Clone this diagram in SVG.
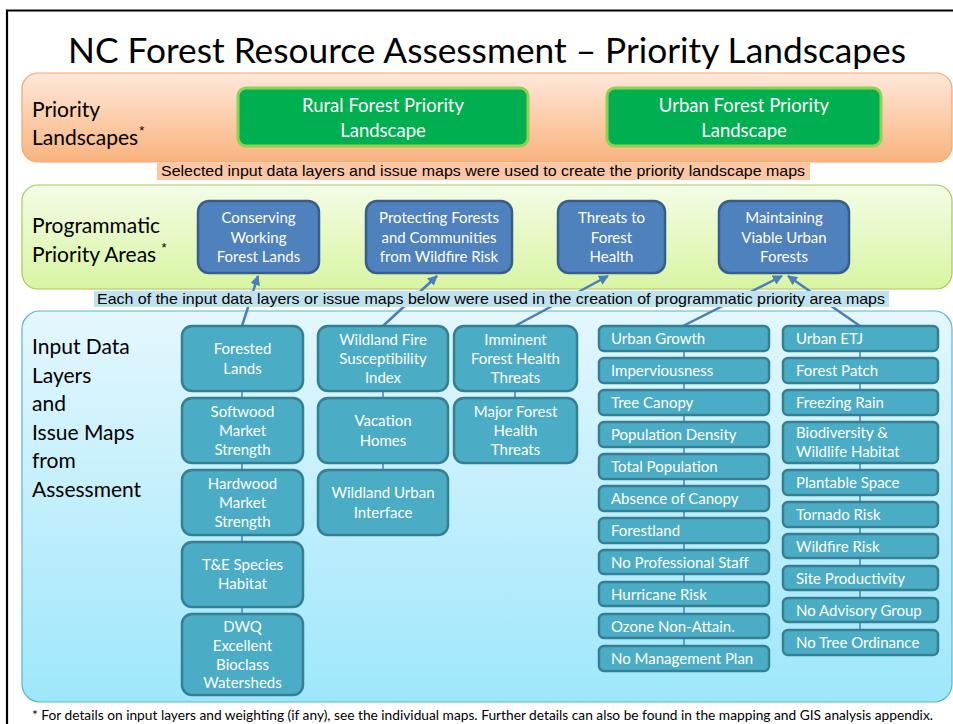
<svg xmlns="http://www.w3.org/2000/svg" width="953" height="724" viewBox="0 0 953 724">
<defs>
  <linearGradient id="gOrange" x1="0" y1="0" x2="0" y2="1">
    <stop offset="0" stop-color="#fee8da"/>
    <stop offset="1" stop-color="#f9b37e"/>
  </linearGradient>
  <linearGradient id="gGreen" x1="0" y1="0" x2="0" y2="1">
    <stop offset="0" stop-color="#f3fce6"/>
    <stop offset="1" stop-color="#d8f5a2"/>
  </linearGradient>
  <linearGradient id="gBlue" x1="0" y1="0" x2="0" y2="1">
    <stop offset="0" stop-color="#e4f7fd"/>
    <stop offset="1" stop-color="#9ee7fb"/>
  </linearGradient>
  <marker id="arr" viewBox="0 0 10 10" refX="9" refY="5" markerWidth="4" markerHeight="4" orient="auto">
    <path d="M0,0 L10,5 L0,10 z" fill="#4a7ebb"/>
  </marker>
</defs>
<style>
  .cal { font-family: Lato, "Open Sans", "Liberation Sans", sans-serif; }
  .ari { font-family: "Liberation Sans", Arial, sans-serif; }
  .lbl { font-family: Lato, "Open Sans", sans-serif; font-size: 21px; fill: #000; }
  .ast { font-family: "Liberation Sans", Arial, sans-serif; font-size: 13px; }
  .gbox { fill: #00b050; stroke: #92d050; stroke-width: 3; }
  .pbox { fill: #4f81bd; stroke: #385d8a; stroke-width: 2.5; }
  .tbox { fill: #4bacc6; stroke: #357f93; stroke-width: 2.5; }
  .wt { fill: #fff; font-family: Lato, "Open Sans", sans-serif; font-size: 15px; }
  .wtc { fill: #fff; font-family: Lato, "Open Sans", sans-serif; font-size: 15px; text-anchor: middle; }
  .gt { fill: #fff; font-family: Lato, "Open Sans", sans-serif; font-size: 18.5px; text-anchor: middle; }
  .arrow { stroke: #4a7ebb; stroke-width: 2.5; fill: none; marker-end: url(#arr); }
  .link { stroke: #4a7ebb; stroke-width: 1.5; fill: none; }
</style>
<rect x="0" y="0" width="953" height="724" fill="#fff"/>
<!-- frame -->
<path d="M7,724 L7,10.5 L953,10.5" fill="none" stroke="#000" stroke-width="2.2"/>

<text class="cal" x="487" y="63" font-size="35" text-anchor="middle" textLength="838" lengthAdjust="spacingAndGlyphs">NC Forest Resource Assessment – Priority Landscapes</text>

<!-- bands -->
<g id="band-priority">
  <rect x="22" y="73" width="930" height="89" rx="16" fill="url(#gOrange)" stroke="#f5a56a" stroke-width="1.2"/>
  <text class="lbl" x="32" y="117">Priority</text>
  <text class="lbl" x="32" y="145">Landscapes<tspan class="ast" dx="1" dy="-10">*</tspan></text>
</g>
<g id="band-programmatic">
  <rect x="22" y="185" width="930" height="104" rx="16" fill="url(#gGreen)" stroke="#a5c85e" stroke-width="1.2"/>
  <text class="lbl" x="32" y="233">Programmatic</text>
  <text class="lbl" x="32" y="262">Priority Areas <tspan class="ast" dy="-10">*</tspan></text>
</g>
<g id="band-input">
  <rect x="22" y="311" width="930" height="391" rx="18" fill="url(#gBlue)" stroke="#5bb5d0" stroke-width="1.2"/>
  <text class="lbl" x="32" y="354">Input Data</text>
  <text class="lbl" x="32" y="383">Layers</text>
  <text class="lbl" x="32" y="411">and</text>
  <text class="lbl" x="32" y="440">Issue Maps</text>
  <text class="lbl" x="32" y="468">from</text>
  <text class="lbl" x="32" y="497">Assessment</text>
</g>

<!-- connectors -->
<g id="connectors">
  <line class="arrow" x1="242" y1="326" x2="258" y2="276"/>
  <line class="arrow" x1="383" y1="326" x2="437" y2="276"/>
  <line class="arrow" x1="515" y1="326" x2="608" y2="276"/>
  <line class="arrow" x1="683" y1="326" x2="782" y2="276"/>
  <line class="arrow" x1="860" y1="326" x2="788" y2="276"/>
  <path class="link" d="M242,391V398 M242,463V470 M242,535V542 M242,607V614
    M383,391V398 M383,463V470 M515,391V398
    M684,351V358 M684,383V390 M684,415V422 M684,447V454 M684,479V486 M684,511V518 M684,543V550 M684,574V582 M684,606V614 M684,638V646
    M860,351V358 M860,383V390 M860,415V422 M860,463V470 M860,495V502 M860,527V534 M860,558V566 M860,590V598 M860,622V630"/>
</g>

<!-- captions -->
<g id="caption-1">
  <rect x="157" y="163" width="653" height="17" fill="#fac6a4"/>
  <text class="ari" x="483" y="176" font-size="15" text-anchor="middle" textLength="644" lengthAdjust="spacingAndGlyphs">Selected input data layers and issue maps were used to create the priority landscape maps</text>
</g>
<g id="caption-2">
  <rect x="94" y="291" width="795" height="16" fill="#bfe3ee"/>
  <text class="ari" x="491" y="304" font-size="15" text-anchor="middle" textLength="788" lengthAdjust="spacingAndGlyphs">Each of the input data layers or issue maps below were used in the creation of programmatic priority area maps</text>
</g>

<!-- priority landscapes -->
<g id="rural-landscape">
  <rect class="gbox" x="238" y="88" width="290" height="58" rx="8"/>
  <text class="gt" x="383" y="112">Rural Forest Priority</text>
  <text class="gt" x="383" y="137">Landscape</text>
</g>
<g id="urban-landscape">
  <rect class="gbox" x="607" y="88" width="274" height="58" rx="8"/>
  <text class="gt" x="744" y="112">Urban Forest Priority</text>
  <text class="gt" x="744" y="137">Landscape</text>
</g>

<!-- programmatic -->
<g id="conserving">
  <rect class="pbox" x="198" y="201" width="121" height="72" rx="11"/>
  <text class="wtc" x="258.5" y="223">Conserving</text>
  <text class="wtc" x="258.5" y="242.5">Working</text>
  <text class="wtc" x="258.5" y="262">Forest Lands</text>
</g>
<g id="protecting">
  <rect class="pbox" x="366" y="201" width="146" height="72" rx="11"/>
  <text class="wtc" x="439" y="223">Protecting Forests</text>
  <text class="wtc" x="439" y="242.5">and Communities</text>
  <text class="wtc" x="439" y="262">from Wildfire Risk</text>
</g>
<g id="threats">
  <rect class="pbox" x="558" y="201" width="107" height="72" rx="11"/>
  <text class="wtc" x="611.5" y="223">Threats to</text>
  <text class="wtc" x="611.5" y="242.5">Forest</text>
  <text class="wtc" x="611.5" y="262">Health</text>
</g>
<g id="maintaining">
  <rect class="pbox" x="719" y="201" width="130" height="72" rx="11"/>
  <text class="wtc" x="784" y="223">Maintaining</text>
  <text class="wtc" x="784" y="242.5">Viable Urban</text>
  <text class="wtc" x="784" y="262">Forests</text>
</g>

<!-- column 1 -->
<g id="forested-lands">
  <rect class="tbox" x="182" y="326" width="121" height="65" rx="10"/>
  <text class="wtc" x="242.5" y="354">Forested</text>
  <text class="wtc" x="242.5" y="374">Lands</text>
</g>
<g id="softwood">
  <rect class="tbox" x="182" y="398" width="121" height="65" rx="10"/>
  <text class="wtc" x="242.5" y="417">Softwood</text>
  <text class="wtc" x="242.5" y="436">Market</text>
  <text class="wtc" x="242.5" y="455">Strength</text>
</g>
<g id="hardwood">
  <rect class="tbox" x="182" y="470" width="121" height="65" rx="10"/>
  <text class="wtc" x="242.5" y="489">Hardwood</text>
  <text class="wtc" x="242.5" y="508">Market</text>
  <text class="wtc" x="242.5" y="527">Strength</text>
</g>
<g id="te-species">
  <rect class="tbox" x="182" y="542" width="121" height="65" rx="10"/>
  <text class="wtc" x="242.5" y="570">T&amp;E Species</text>
  <text class="wtc" x="242.5" y="589">Habitat</text>
</g>
<g id="dwq">
  <rect class="tbox" x="182" y="614" width="121" height="81" rx="10"/>
  <text class="wtc" x="242.5" y="632">DWQ</text>
  <text class="wtc" x="242.5" y="651">Excellent</text>
  <text class="wtc" x="242.5" y="669.5">Bioclass</text>
  <text class="wtc" x="242.5" y="688">Watersheds</text>
</g>

<!-- column 2 -->
<g id="wildland-fire">
  <rect class="tbox" x="318" y="326" width="130" height="65" rx="10"/>
  <text class="wtc" x="383" y="345">Wildland Fire</text>
  <text class="wtc" x="383" y="364">Susceptibility</text>
  <text class="wtc" x="383" y="383">Index</text>
</g>
<g id="vacation-homes">
  <rect class="tbox" x="318" y="398" width="130" height="65" rx="10"/>
  <text class="wtc" x="383" y="426">Vacation</text>
  <text class="wtc" x="383" y="446">Homes</text>
</g>
<g id="wui">
  <rect class="tbox" x="318" y="470" width="130" height="65" rx="10"/>
  <text class="wtc" x="383" y="498">Wildland Urban</text>
  <text class="wtc" x="383" y="518">Interface</text>
</g>

<!-- column 3 -->
<g id="imminent">
  <rect class="tbox" x="454" y="326" width="123" height="65" rx="10"/>
  <text class="wtc" x="515.5" y="345">Imminent</text>
  <text class="wtc" x="515.5" y="364">Forest Health</text>
  <text class="wtc" x="515.5" y="383">Threats</text>
</g>
<g id="major-threats">
  <rect class="tbox" x="454" y="398" width="123" height="65" rx="10"/>
  <text class="wtc" x="515.5" y="417">Major Forest</text>
  <text class="wtc" x="515.5" y="436">Health</text>
  <text class="wtc" x="515.5" y="455">Threats</text>
</g>

<!-- column 4 -->
<g id="urban-growth"><rect class="tbox" x="599" y="326" width="170" height="25" rx="5"/><text class="wt" x="611" y="344">Urban Growth</text></g>
<g id="imperviousness"><rect class="tbox" x="599" y="358" width="170" height="25" rx="5"/><text class="wt" x="611" y="376">Imperviousness</text></g>
<g id="tree-canopy"><rect class="tbox" x="599" y="390" width="170" height="25" rx="5"/><text class="wt" x="611" y="408">Tree Canopy</text></g>
<g id="population-density"><rect class="tbox" x="599" y="422" width="170" height="25" rx="5"/><text class="wt" x="611" y="440">Population Density</text></g>
<g id="total-population"><rect class="tbox" x="599" y="454" width="170" height="25" rx="5"/><text class="wt" x="611" y="472">Total Population</text></g>
<g id="absence-canopy"><rect class="tbox" x="599" y="486" width="170" height="25" rx="5"/><text class="wt" x="611" y="504">Absence of Canopy</text></g>
<g id="forestland"><rect class="tbox" x="599" y="518" width="170" height="25" rx="5"/><text class="wt" x="611" y="536">Forestland</text></g>
<g id="no-prof-staff"><rect class="tbox" x="599" y="550" width="170" height="24" rx="5"/><text class="wt" x="611" y="567.5">No Professional Staff</text></g>
<g id="hurricane"><rect class="tbox" x="599" y="582" width="170" height="24" rx="5"/><text class="wt" x="611" y="599.5">Hurricane Risk</text></g>
<g id="ozone"><rect class="tbox" x="599" y="614" width="170" height="24" rx="5"/><text class="wt" x="611" y="631.5">Ozone Non-Attain.</text></g>
<g id="no-mgmt-plan"><rect class="tbox" x="599" y="646" width="170" height="25" rx="5"/><text class="wt" x="611" y="664">No Management Plan</text></g>

<!-- column 5 -->
<g id="urban-etj"><rect class="tbox" x="783" y="326" width="155" height="25" rx="5"/><text class="wt" x="796" y="344">Urban ETJ</text></g>
<g id="forest-patch"><rect class="tbox" x="783" y="358" width="155" height="25" rx="5"/><text class="wt" x="796" y="376">Forest Patch</text></g>
<g id="freezing-rain"><rect class="tbox" x="783" y="390" width="155" height="25" rx="5"/><text class="wt" x="796" y="408">Freezing Rain</text></g>
<g id="biodiversity"><rect class="tbox" x="783" y="422" width="155" height="41" rx="5"/><text class="wt" x="796" y="438">Biodiversity &amp;</text><text class="wt" x="796" y="457">Wildlife Habitat</text></g>
<g id="plantable-space"><rect class="tbox" x="783" y="470" width="155" height="25" rx="5"/><text class="wt" x="796" y="488">Plantable Space</text></g>
<g id="tornado-risk"><rect class="tbox" x="783" y="502" width="155" height="25" rx="5"/><text class="wt" x="796" y="520">Tornado Risk</text></g>
<g id="wildfire-risk"><rect class="tbox" x="783" y="534" width="155" height="24" rx="5"/><text class="wt" x="796" y="551.5">Wildfire Risk</text></g>
<g id="site-productivity"><rect class="tbox" x="783" y="566" width="155" height="24" rx="5"/><text class="wt" x="796" y="583.5">Site Productivity</text></g>
<g id="no-advisory"><rect class="tbox" x="783" y="598" width="155" height="24" rx="5"/><text class="wt" x="796" y="615.5">No Advisory Group</text></g>
<g id="no-tree-ordinance"><rect class="tbox" x="783" y="630" width="155" height="25" rx="5"/><text class="wt" x="796" y="648">No Tree Ordinance</text></g>

<text class="cal" x="32" y="720" font-size="13.5" textLength="901" lengthAdjust="spacingAndGlyphs">* For details on input layers and weighting (if any), see the individual maps.  Further details can also be found in the mapping and GIS analysis appendix.</text>
</svg>
